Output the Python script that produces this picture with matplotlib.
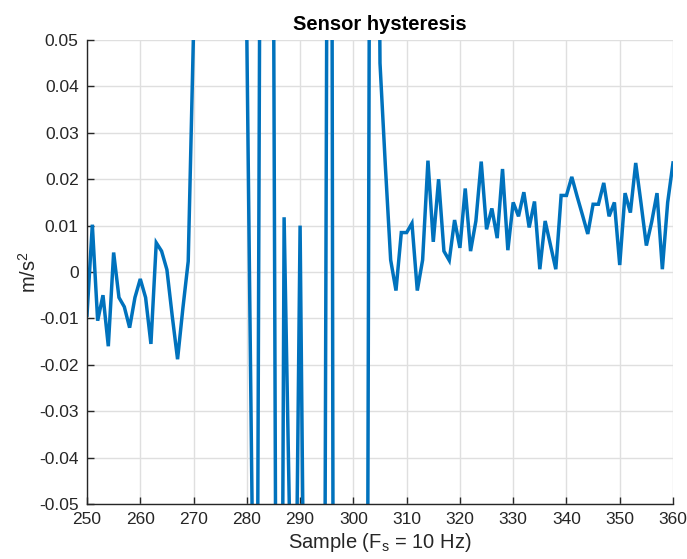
import numpy as np
import matplotlib
matplotlib.use('Agg')
import matplotlib.pyplot as plt
from matplotlib.ticker import FuncFormatter

# samples 250..360
first_sample = 250
last_sample = 360

before_event = [-0.0093, 0.0102, -0.0105, -0.0050, -0.0160, 0.0042, -0.0055,
                -0.0075, -0.0120, -0.0055, -0.0015, -0.0055, -0.0155, 0.0063,
                0.0045, 0.0005, -0.0095, -0.0188, -0.0078, 0.0023]          # 250-269

during_event = [0.052, 0.14, 0.26, 0.35, 0.31, 0.22, 0.18, 0.27, 0.16, 0.09,
                0.051, -0.052, -0.070, 0.240, 0.310, 0.069, -0.244, 0.0118,
                -0.052, -0.099, 0.0100, -0.110, -0.25, -0.33, -0.30, 0.055,
                0.060, -0.60, -0.45, -0.38, -0.52, -0.41, -0.338, 0.062,
                0.20]                                                        # 270-304

after_event = [0.045, 0.023, 0.0026, -0.0040, 0.0085, 0.0085, 0.0105, -0.0040,
               0.0026, 0.0240, 0.0065, 0.0200, 0.0045, 0.0025, 0.0112, 0.0052,
               0.0180, 0.0045, 0.0110, 0.0238, 0.0092, 0.0137, 0.0073, 0.0222,
               0.0047, 0.0150, 0.0120, 0.0172, 0.0096, 0.0152, 0.0006, 0.0110,
               0.0058, 0.0006, 0.0165, 0.0165, 0.0205, 0.0163, 0.0123, 0.0082,
               0.0146, 0.0146, 0.0192, 0.0120, 0.0150, 0.0015, 0.0170, 0.0128,
               0.0235, 0.0148, 0.0057, 0.0108, 0.0170, 0.0006, 0.0150,
               0.0235]                                                       # 305-360

xticks = [250, 260, 270, 280, 290, 300, 310, 320, 330, 340, 350, 360]
yticks = [-0.05, -0.04, -0.03, -0.02, -0.01, 0, 0.01, 0.02, 0.03, 0.04, 0.05]

accel = np.array(before_event + during_event + after_event)
samples = np.arange(first_sample, last_sample + 1)

plt.rcParams['font.family'] = ['Liberation Sans', 'DejaVu Sans']
plt.rcParams['mathtext.fontset'] = 'custom'
plt.rcParams['mathtext.rm'] = 'Liberation Sans'

fig = plt.figure(figsize=(6.87, 5.59), dpi=100)
ax = fig.add_axes([87 / 687, 1 - 504 / 559, 586 / 687, 464 / 559])

ax.plot(samples, accel, color='#0072BD', linewidth=2.5, solid_joinstyle='miter')

ax.set_xlim(first_sample, last_sample)
ax.set_ylim(-0.05, 0.05)
ax.set_xticks(xticks)
ax.set_yticks(yticks)

def fmt(v, pos):
    s = '%g' % round(v, 4)
    return s

ax.yaxis.set_major_formatter(FuncFormatter(fmt))

ax.grid(True, color='#dfdfdf', linewidth=1.0)
ax.set_axisbelow(True)
for side in ['top', 'right']:
    ax.spines[side].set_visible(False)
for side in ['left', 'bottom']:
    ax.spines[side].set_color('#262626')
    ax.spines[side].set_linewidth(1.0)
ax.tick_params(direction='in', length=5, width=1, colors='#262626',
               labelsize=12.5, pad=6)

ax.set_title('Sensor hysteresis', fontsize=14.5, fontweight='bold', pad=7)
ax.set_xlabel('Sample (F$_\\mathregular{s}$ = 10 Hz)', fontsize=14.5,
              color='#262626', labelpad=3)
ax.set_ylabel('m/s$^\\mathregular{2}$', fontsize=14.5, color='#262626')
ax.yaxis.set_label_coords(-0.080, 0.5)

fig.savefig('out.png', dpi=100)
